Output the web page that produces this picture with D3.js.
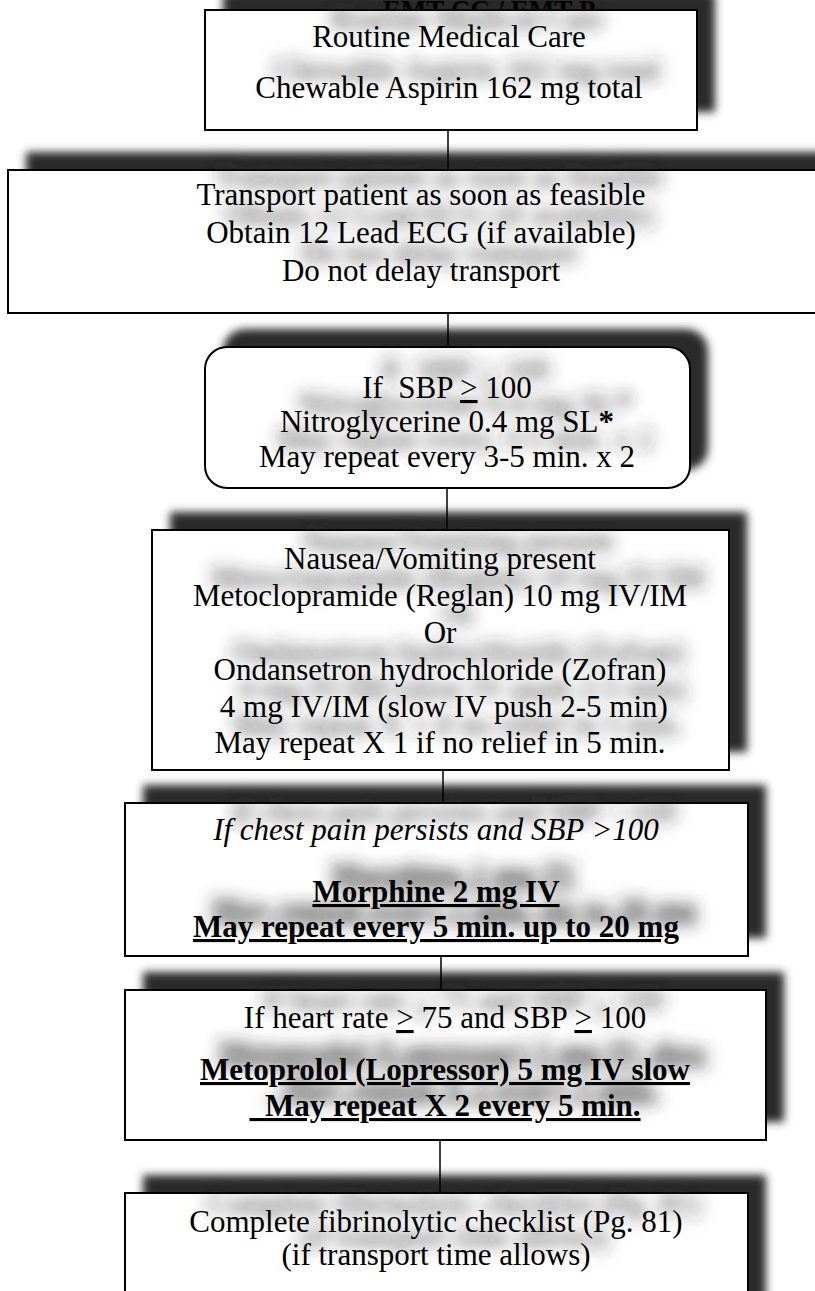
<!DOCTYPE html>
<html>
<head>
<meta charset="utf-8">
<script src="https://cdn.jsdelivr.net/npm/d3@7"></script>
<style>
  body { margin: 0; background: #fff; }
  text { font-family: "Liberation Serif", "Times New Roman", serif; white-space: pre; }
</style>
</head>
<body>
<svg id="chart" width="815" height="1291"></svg>
<script>
// flowchart text, one array per step ("≥" is drawn as an underlined ">")
const header = "EMT-CC / EMT-P";
const routineLines = ["Routine Medical Care", "Chewable Aspirin 162 mg total"];
const transportLines = ["Transport patient as soon as feasible", "Obtain 12 Lead ECG (if available)", "Do not delay transport"];
const nitroLines = ["If  SBP ≥ 100", "Nitroglycerine 0.4 mg SL*", "May repeat every 3-5 min. x 2"];
const nauseaLines = ["Nausea/Vomiting present", "Metoclopramide (Reglan) 10 mg IV/IM", "Or",
  "Ondansetron hydrochloride (Zofran)", " 4 mg IV/IM (slow IV push 2-5 min)", "May repeat X 1 if no relief in 5 min."];
const morphineLines = ["If chest pain persists and SBP >100", "", "Morphine 2 mg IV", "May repeat every 5 min. up to 20 mg"];
const metoprololLines = ["If heart rate ≥ 75 and SBP ≥ 100", "Metoprolol (Lopressor) 5 mg IV slow", "  May repeat X 2 every 5 min."];
const fibrinoLines = ["Complete fibrinolytic checklist (Pg. 81)", "(if transport time allows)"];

const steps = [routineLines, transportLines, nitroLines, nauseaLines, morphineLines, metoprololLines, fibrinoLines];

//layout (pixels), kept apart from the text
const layout = [
  {x0: 205, x1: 697, y0: 10,   y1: 130,  cx: 449, rx: 0,  base: [47, 98]},
  {x0: 8,   x1: 834, y0: 170,  y1: 313,  cx: 421, rx: 0,  base: [205, 243, 281]},
  {x0: 205, x1: 690, y0: 347,  y1: 488,  cx: 447, rx: 22, base: [398, 432, 467]},
  {x0: 152, x1: 729, y0: 530,  y1: 770,  cx: 440, rx: 0,  base: [569, 606, 643, 680, 717, 753]},
  {x0: 125, x1: 748, y0: 803,  y1: 956,  cx: 436, rx: 0,  base: [840, 870, 902, 937]},
  {x0: 125, x1: 766, y0: 990,  y1: 1140, cx: 445, rx: 0,  base: [1028, 1080, 1116]},
  {x0: 125, x1: 748, y0: 1193, y1: 1340, cx: 436, rx: 0,  base: [1232, 1265]}
];
const lineStyle = [[], [], [], [], ["i", "", "bu", "bu"], ["", "bu", "bu"], []];
const connectorX = [448, 448, 447, 443, 441, 440];

const fontSize = 31;
const shadowDx = 18, shadowDy = -18;

const svg = d3.select("#chart");
const defs = svg.append("defs");
defs.append("filter").attr("id", "boxBlur")
    .attr("x", "-10%").attr("y", "-40%").attr("width", "120%").attr("height", "180%")
  .append("feGaussianBlur").attr("stdDeviation", 4.5);
defs.append("filter").attr("id", "textBlur")
    .attr("x", "-15%").attr("y", "-80%").attr("width", "130%").attr("height", "260%")
  .append("feGaussianBlur").attr("stdDeviation", 8);

//box shadows
svg.append("g")
    .attr("transform", `translate(${shadowDx},${shadowDy})`)
    .attr("filter", "url(#boxBlur)")
  .selectAll("rect")
  .data(layout)
  .enter().append("rect")
    .attr("x", d => d.x0).attr("y", d => d.y0)
    .attr("width", d => d.x1 - d.x0).attr("height", d => d.y1 - d.y0)
    .attr("rx", d => d.rx)
    .style("fill", "#2b2b2b");

//connectors
svg.append("g").selectAll("line")
  .data(connectorX)
  .enter().append("line")
    .attr("x1", d => d).attr("x2", d => d)
    .attr("y1", (d, i) => layout[i].y1)
    .attr("y2", (d, i) => layout[i + 1].y0)
    .style("stroke", "#000").style("stroke-width", 1.5);

//header sits behind the first box
svg.append("text")
    .attr("x", 489).attr("y", 19)
    .attr("text-anchor", "middle")
    .style("font-size", "27px").style("font-weight", "bold")
    .text(header);

//boxes
svg.append("g").selectAll("rect")
  .data(layout)
  .enter().append("rect")
    .attr("x", d => d.x0).attr("y", d => d.y0)
    .attr("width", d => d.x1 - d.x0).attr("height", d => d.y1 - d.y0)
    .attr("rx", d => d.rx)
    .style("fill", "#fff").style("stroke", "#000").style("stroke-width", 2);

function drawLines(g, fill) {
  steps.forEach(function(lines, i) {
    let box = layout[i];
    lines.forEach(function(line, j) {
      if (line === "") return;
      let st = lineStyle[i][j] || "";
      let t = g.append("text")
          .attr("x", box.cx).attr("y", box.base[j])
          .attr("text-anchor", "middle")
          .style("font-size", fontSize + "px")
          .style("fill", fill)
          .style("font-style", st.includes("i") ? "italic" : "normal")
          .style("font-weight", st.includes("b") ? "bold" : "normal")
          .style("text-decoration", st.includes("u") ? "underline" : "none");
      line.split("≥").forEach(function(p, k) {
        if (k > 0) t.append("tspan").text(">").style("text-decoration", "underline");
        if (p.endsWith("*")) {
          t.append("tspan").text(p.slice(0, -1));
          t.append("tspan").text("*").style("font-weight", "bold");
        } else {
          t.append("tspan").text(p);
        }
      });
    });
  });
}

//blurred text shadow inside the boxes
drawLines(svg.append("g")
    .attr("transform", `translate(${shadowDx},${shadowDy})`)
    .attr("filter", "url(#textBlur)"), "#2a2a2a");

drawLines(svg.append("g"), "#000");
</script>
</body>
</html>
